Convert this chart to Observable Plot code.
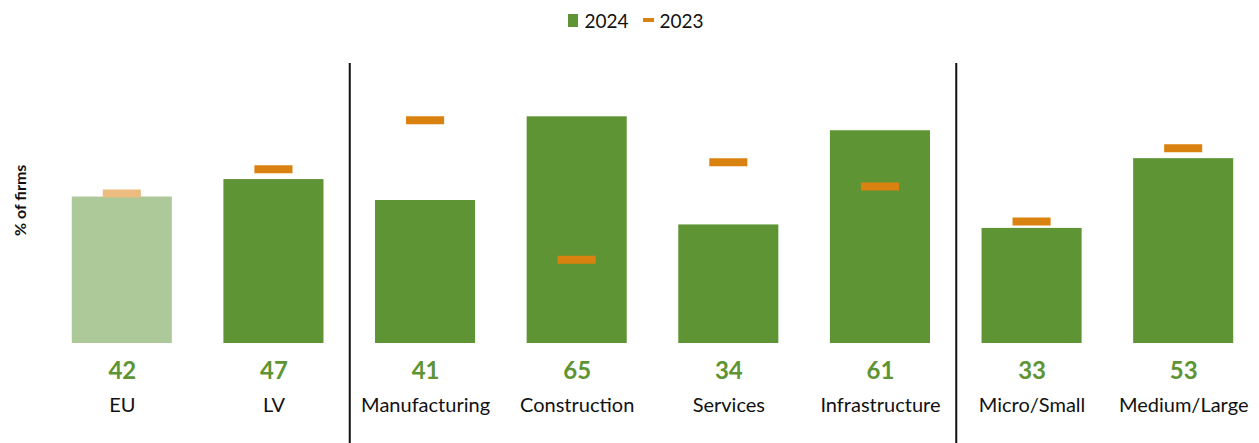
<!DOCTYPE html>
<html><head><meta charset="utf-8">
<script src="https://cdn.jsdelivr.net/npm/d3@7"></script>
<script src="https://cdn.jsdelivr.net/npm/@observablehq/plot@0.6"></script>
<style>
body{margin:0;background:#fff;font-family:Lato,"Open Sans",sans-serif;}
#legend{height:40px;display:flex;justify-content:center;align-items:center;padding-left:13px;font-size:19px;color:#111;}
.item{display:flex;align-items:center;margin:0 7px;}
.sw{display:inline-block;margin-right:6px;}
#chart svg{display:block;}
</style></head><body>
<div id="legend">
  <span class="item"><span class="sw" style="width:10px;height:13px;background:#5e9433"></span>2024</span>
  <span class="item"><span class="sw" style="width:11px;height:4px;background:#d9820f"></span>2023</span>
</div>
<div id="chart"></div>
<script>
const categories = ["EU","LV","Manufacturing","Construction","Services","Infrastructure","Micro/Small","Medium/Large"];
const values2024 = [42,47,41,65,34,61,33,53];
const values2023 = [43,50,64,24,52,45,35,56];
const separatorsBefore = ["Manufacturing","Micro/Small"];
const benchmark = ["EU"];

const data = categories.map((c,i)=>({cat:c, v24:values2024[i], v23:values2023[i], bench: benchmark.includes(c)}));

const W = 1259, H = 403, mL = 46, mR = 0, mT = 24, mB = 100;
const yMax = 80;
const step = (W - mL - mR) / categories.length;
const pxPerUnit = (H - mT - mB) / yMax;

const plot = Plot.plot({
  width: W, height: H,
  marginLeft: mL, marginRight: mR, marginTop: mT, marginBottom: mB,
  style: {fontFamily: "Lato, 'Open Sans', sans-serif", background: "#fff"},
  x: {domain: categories, paddingInner: 0.34, paddingOuter: 0.17, round: false, axis: null},
  y: {domain: [0, yMax], axis: null},
  marks: [
    Plot.barY(data, {x: "cat", y: "v24", fill: d => d.bench ? "#adc999" : "#5e9433"}),
    Plot.tickY(data, {x: "cat", y: "v23", stroke: d => d.bench ? "#ebbb80" : "#d9820f", strokeWidth: 8, insetLeft: 31, insetRight: 31}),
    Plot.text(data, {x: "cat", y: 0, text: d => String(d.v24), dy: 28, fill: "#5e9433", fontWeight: "bold", fontSize: 24}),
    Plot.text(data, {x: "cat", y: 0, text: "cat", dy: 62, fill: "#111", fontSize: 20}),
    Plot.ruleX(separatorsBefore, {x: d => d, dx: -step/2, y1: yMax + 1 / pxPerUnit, y2: -mB / pxPerUnit, stroke: "#111", strokeWidth: 2}),
    Plot.text(["% of firms"], {frameAnchor: "left", text: d => d, rotate: -90, dx: -26, dy: 32, fontWeight: "bold", fontSize: 16, fill: "#111"})
  ]
});
document.getElementById("chart").appendChild(plot);
</script>
</body></html>
